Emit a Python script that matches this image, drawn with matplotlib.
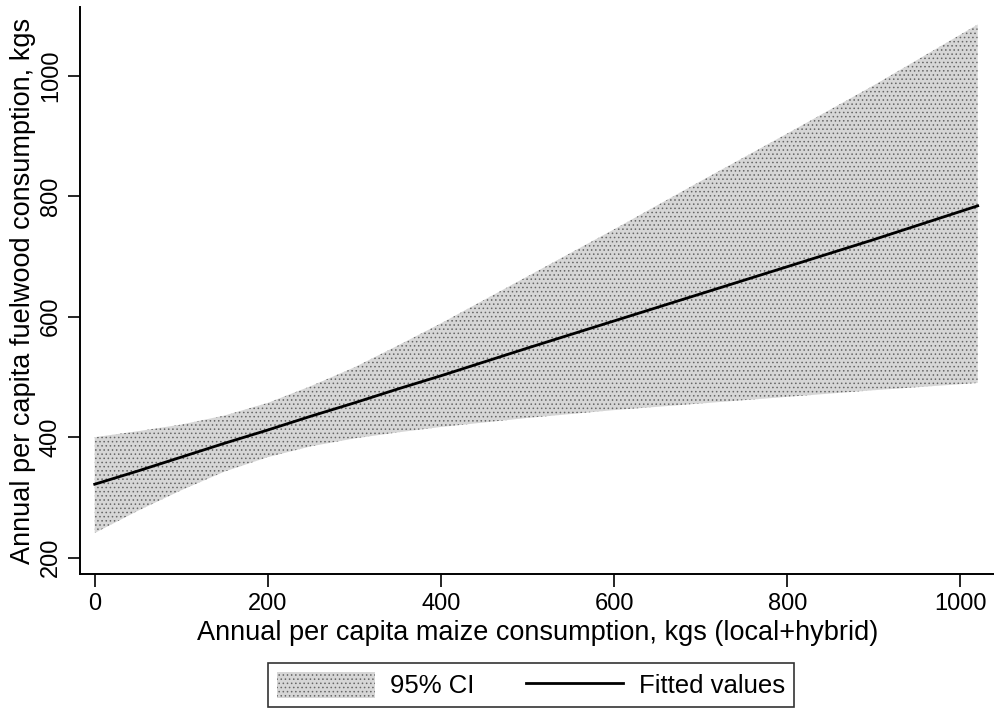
import matplotlib
matplotlib.use("Agg")
import matplotlib.pyplot as plt

plt.rcParams['font.family'] = ['Liberation Sans', 'DejaVu Sans']
plt.rcParams['hatch.linewidth'] = 0.6

# Data
maize = [0, 50, 100, 150, 200, 250, 300, 350, 400, 500, 600, 700, 800, 900, 1020]
fitted = [322, 344, 367, 390, 412, 435, 457, 480, 502, 548, 593, 638, 683, 728, 784]
ci_upper = [400, 410, 421, 436, 457, 485, 516, 552, 589, 667, 745, 825, 904, 984, 1085]
ci_lower = [241, 278, 312, 343, 367, 385, 398, 408, 417, 432, 445, 456, 467, 478, 490]

xticks = [0, 200, 400, 600, 800, 1000]
yticks = [200, 400, 600, 800, 1000]

fig = plt.figure(figsize=(9.95, 7.15), dpi=100)
ax = fig.add_axes([80/995, 141/715, (995-80)/995, (574-7)/715])

ax.fill_between(maize, ci_lower, ci_upper, facecolor='#d6d6d6', edgecolor='#666666',
                hatch='....', linewidth=0, label='95% CI')
ax.plot(maize, fitted, color='black', linewidth=2.0, label='Fitted values')

ax.set_xlim(-17, 1040)
ax.set_ylim(173, 1114)
ax.set_xticks(xticks)
ax.set_yticks(yticks)
ax.set_xticklabels([str(v) for v in xticks], fontsize=17)
ax.set_yticklabels([str(v) for v in yticks], rotation=90, va='center', fontsize=17)
ax.tick_params(axis='both', direction='out', length=9, width=1.2, color='black')
ax.tick_params(axis='y', pad=4)
ax.tick_params(axis='x', pad=5)
for s in ['top', 'right']:
    ax.spines[s].set_visible(False)
for s in ['left', 'bottom']:
    ax.spines[s].set_linewidth(1.4)

ax.set_xlabel('Annual per capita maize consumption, kgs (local+hybrid)', fontsize=19.5, labelpad=3)
ax.set_ylabel('Annual per capita fuelwood consumption, kgs', fontsize=19.5, labelpad=3)

handles, labels = ax.get_legend_handles_labels()
leg = fig.legend(handles, labels, loc='center', bbox_to_anchor=(531/995, 1-685/715),
                 ncol=2, frameon=True, fancybox=False, edgecolor='black', fontsize=18.5,
                 handlelength=3.8, handleheight=1.2, handletextpad=0.6,
                 columnspacing=2.0, borderpad=0.35, borderaxespad=0)
leg.get_frame().set_linewidth(1.2)

fig.savefig('out.png', dpi=100)
